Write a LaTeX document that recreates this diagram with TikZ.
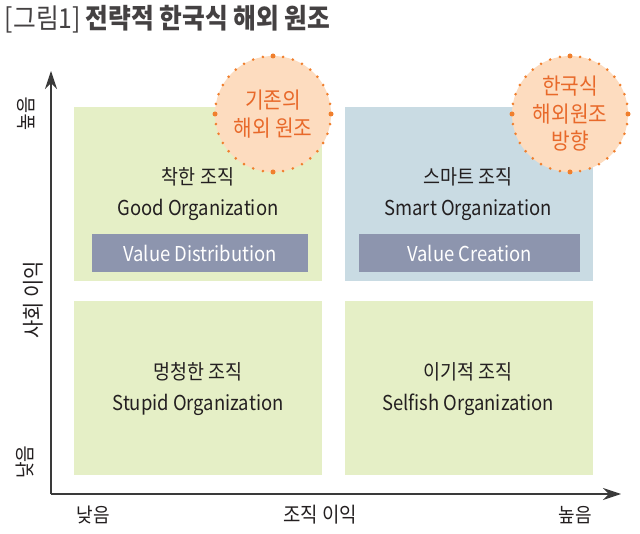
\documentclass[tikz,border=0pt]{standalone}
\usepackage{fontspec}
\setmainfont{Noto Sans CJK KR}[FakeStretch=0.9]
\usetikzlibrary{arrows.meta}
\definecolor{grn}{HTML}{E5EFC6}
\definecolor{blu}{HTML}{C9DBE3}
\definecolor{slate}{HTML}{8D95AE}
\definecolor{peach}{HTML}{FDDCBF}
\definecolor{orng}{HTML}{F07F2D}
\definecolor{otext}{HTML}{E8692A}
\definecolor{txt}{HTML}{231F20}
\definecolor{axis}{HTML}{3A3A3A}
\begin{document}
\begin{tikzpicture}[x=1pt,y=-1pt,
  every node/.style={inner sep=0pt, outer sep=0pt, text=txt},
  quad/.style={draw=none, fill=#1, minimum width=248pt, minimum height=174pt, anchor=north west},
  valbox/.style={draw=none, fill=slate, minimum height=38pt, text=white, font=\fontsize{20.5}{22}\selectfont},
  lbl/.style={align=center, font=\fontsize{20.5}{31}\selectfont},
  axlbl/.style={font=\fontsize{20}{20}\selectfont},
  badge/.style={circle, fill=peach, minimum size=116pt, draw=orng, line width=2.9pt,
    dash pattern=on 0pt off 10.12pt, line cap=round, align=center, text=otext},
  axisline/.style={draw=axis, line width=1.3pt, -{Stealth[length=18pt,width=12pt]}}]
\useasboundingbox (0,0) rectangle (640,534);
% title
\node[anchor=west, font=\fontsize{27.5}{28}\selectfont] (title) at (5,19)
  {\color{txt!85}[그림1]\,\bfseries 전략적 한국식 해외 원조};
% quadrants
\node[quad=grn] (q1) at (74,107) {};
\node[quad=blu] (q2) at (345,107) {};
\node[quad=grn] (q3) at (74,301) {};
\node[quad=grn] (q4) at (345,301) {};
% labels
\node[lbl] (l1) at (198,194) {착한 조직\\Good Organization};
\node[lbl] (l2) at (468,194) {스마트 조직\\Smart Organization};
\node[lbl] (l3) at (198,389) {멍청한 조직\\Stupid Organization};
\node[lbl] (l4) at (468,389) {이기적 조직\\Selfish Organization};
\node[valbox, minimum width=216pt] (vd) at (200,253) {Value Distribution};
\node[valbox, minimum width=221pt] (vc) at (469.5,253) {Value Creation};
% badges
\node[badge, font=\fontsize{22.5}{28}\selectfont] (b1) at (273,114) {기존의\\해외 원조};
\node[badge, font=\fontsize{22.5}{27.5}\selectfont] (b2) at (570,114) {한국식\\해외원조\\방향};
\foreach \b in {b1,b2}{
  \foreach \a in {north,south,east,west}{
    \fill[orng] (\b.\a) circle (2.5pt);
  }
}
% axes
\coordinate (o) at (51,494);
\coordinate (ytip) at (51,71);
\coordinate (xtip) at (621,494);
\draw[axisline] (o) -- (ytip);
\draw[axisline] (o) -- (xtip);
% axis labels
\node[axlbl, rotate=90] (yhi) at (26,114) {높음};
\node[axlbl, rotate=90] (ylo) at (25,462) {낮음};
\node[axlbl, rotate=90, font=\fontsize{22}{22}\selectfont] (yt) at (33,300) {사회 이익};
\node[axlbl] (xlo) at (93,515) {낮음};
\node[axlbl, font=\fontsize{21}{21}\selectfont] (xt) at (320,515) {조직 이익};
\node[axlbl] (xhi) at (575,515) {높음};
\end{tikzpicture}
\end{document}
